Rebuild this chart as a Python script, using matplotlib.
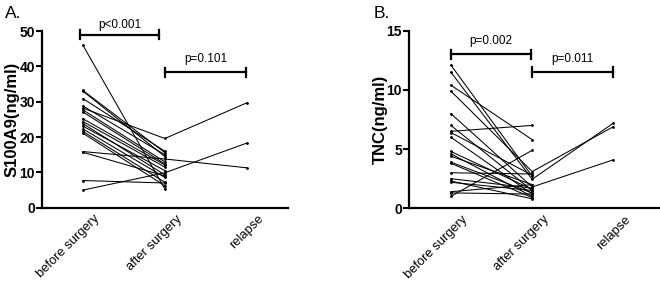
import numpy as np
import matplotlib
matplotlib.use("Agg")
import matplotlib.pyplot as plt
import matplotlib.transforms as mtransforms

plt.rcParams['font.family'] = ['Liberation Sans', 'DejaVu Sans']

nan = np.nan
categories = ["before surgery", "after surgery", "relapse"]

# Panel A: S100A9 (ng/ml)
a_before = [46.0, 33.2, 33.0, 30.9, 28.8, 28.2, 27.7, 27.1, 25.2, 24.4, 23.8,
            23.1, 22.3, 21.6, 21.1, 15.9, 15.7, 7.7, 5.0]
a_after = [5.3, 15.6, 14.5, 16.0, 15.0, 19.6, 13.0, 12.4, 12.1, 11.5, 9.3,
           10.5, 8.6, 7.2, 6.2, 13.8, 9.0, 7.0, 9.9]
a_relapse = [nan, nan, nan, nan, nan, 29.7, nan, nan, nan, nan, nan,
             nan, nan, nan, nan, 11.3, nan, nan, 18.3]
a_yticks = [0, 10, 20, 30, 40, 50]

# Panel B: TNC (ng/ml)
b_before = [12.1, 11.5, 10.4, 9.9, 8.0, 7.0, 6.5, 6.4, 6.0, 4.8, 4.6, 4.4,
            3.9, 3.8, 3.0, 2.5, 2.3, 2.2, 1.4, 1.3, 1.0]
b_after = [2.7, 2.45, 5.8, 3.1, 1.8, 1.5, 7.0, 2.8, 1.2, 1.6, 1.0, 2.0,
           1.3, 0.9, 2.9, 1.7, 0.8, 1.5, 2.0, 1.2, 4.9]
b_relapse = [nan, 7.2, nan, 6.9, 4.1, nan, nan, nan, nan, nan, nan, nan,
             nan, nan, nan, nan, nan, nan, nan, nan, nan]
b_yticks = [0, 5, 10, 15]

fig = plt.figure(figsize=(6.6, 2.83), dpi=100)
axA = fig.add_axes([0.0636, 0.266, 0.3724, 0.624])
axB = fig.add_axes([0.6197, 0.264, 0.3788, 0.6275])


def draw_panel(ax, before, after, relapse, yticks, ylim, xlim, ylabel,
               brackets, letter, letter_x, ylabel_x):
    x = np.arange(3)
    for b, a, r in zip(before, after, relapse):
        vals = [b, a, r]
        ax.plot(x, vals, color='black', lw=0.75, marker='o', ms=1.0,
                mec='black', mfc='black', clip_on=False, zorder=3)
    ax.set_xlim(*xlim)
    ax.set_ylim(*ylim)
    ax.set_yticks(yticks)
    ax.set_yticklabels([str(t) for t in yticks], fontweight='bold', fontsize=10)
    ax.set_xticks(x)
    ax.set_xticklabels([])
    base = mtransforms.blended_transform_factory(ax.transData, ax.transAxes)
    offset = mtransforms.ScaledTranslation(11 / 100, -5 / 100, fig.dpi_scale_trans)
    for xi, cat in zip(x, categories):
        ax.text(xi, 0, cat, transform=base + offset, rotation=45,
                rotation_mode='anchor', ha='right', va='top', fontsize=9.3,
                clip_on=False)
    ax.tick_params(axis='x', length=0)
    ax.tick_params(axis='y', length=4, width=1.5, pad=1)
    for s in ['top', 'right']:
        ax.spines[s].set_visible(False)
    for s in ['left', 'bottom']:
        ax.spines[s].set_linewidth(1.6)
    ax.set_ylabel(ylabel, fontweight='bold', fontsize=12)
    ax.yaxis.set_label_coords(ylabel_x, 0.5)
    for (x0, x1, yb, h, txt, ty) in brackets:
        ax.plot([x0, x1], [yb, yb], color='black', lw=1.6, clip_on=False)
        ax.plot([x0, x0], [yb - h, yb + h], color='black', lw=1.6, clip_on=False)
        ax.plot([x1, x1], [yb - h, yb + h], color='black', lw=1.6, clip_on=False)
        ax.text((x0 + x1) / 2, ty, txt, ha='center', va='center', fontsize=8.5)
    fig.text(letter_x, 0.952, letter, fontsize=12.5, ha='left', va='center')


draw_panel(axA, a_before, a_after, a_relapse, a_yticks, (0, 50), (-0.5, 2.5),
           "S100A9(ng/ml)",
           [(-0.03, 0.93, 49.0, 1.2, "p<0.001", 51.6),
            (1.0, 1.99, 38.3, 1.2, "p=0.101", 42.0)],
           "A.", 0.008, -0.09)
draw_panel(axB, b_before, b_after, b_relapse, b_yticks, (0, 15), (-0.515, 2.56),
           "TNC(ng/ml)",
           [(0.0, 0.98, 13.0, 0.4, "p=0.002", 14.1),
            (1.0, 1.99, 11.5, 0.4, "p=0.011", 12.6)],
           "B.", 0.566, -0.085)

fig.savefig("out.png", dpi=100)
